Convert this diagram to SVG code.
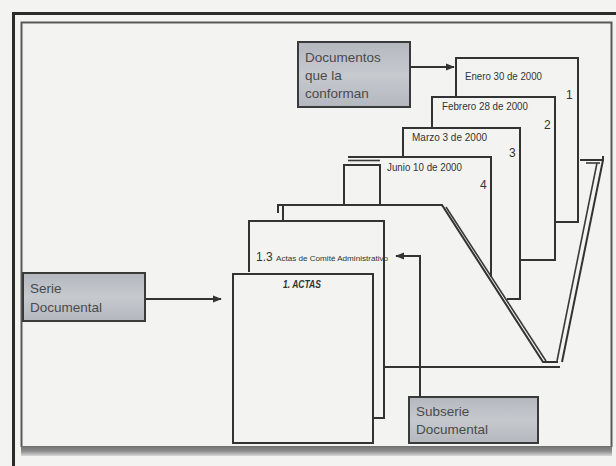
<svg xmlns="http://www.w3.org/2000/svg" width="616" height="466" viewBox="0 0 616 466">
<defs>
<marker id="ah" viewBox="0 0 10 10" refX="9" refY="5" markerWidth="4.5" markerHeight="4.5" orient="auto" markerUnits="strokeWidth">
<path d="M0,1 L10,5 L0,9 Z" fill="#333"/>
</marker>
<linearGradient id="bar" x1="0" y1="0" x2="0" y2="1">
<stop offset="0" stop-color="#6f6f6f"/>
<stop offset="0.5" stop-color="#8c8c8c"/>
<stop offset="1" stop-color="#d8d8d8"/>
</linearGradient>
<linearGradient id="box" x1="0" y1="0" x2="0" y2="1">
<stop offset="0" stop-color="#b4b8be"/>
<stop offset="0.5" stop-color="#c6c9ce"/>
<stop offset="1" stop-color="#b4b8be"/>
</linearGradient>
</defs>
<style>
.ln{fill:none;stroke:#333;stroke-width:2}
.thin{fill:none;stroke:#3a3a3a;stroke-width:1.6}
.lbl{fill:url(#box);stroke:#3a3a3a;stroke-width:2}
.lt{font-family:"Liberation Sans",Arial,sans-serif;font-size:13.5px;fill:#4a4a4a}
.dt{font-family:"Liberation Sans",Arial,sans-serif;font-size:10.5px;fill:#333}
.num{font-family:"Liberation Sans",Arial,sans-serif;font-size:12px;fill:#333}
.conn{fill:none;stroke:#333;stroke-width:2;marker-end:url(#ah)}
</style>
<rect x="0" y="0" width="616" height="466" fill="#f3f3f1"/>
<g id="frame">
<path d="M13.5,466 V13.5 H616" fill="none" stroke="#2b2b2b" stroke-width="3"/>
<path d="M21.5,447 V22.5 H611.5 V447" fill="none" stroke="#5a5a5a" stroke-width="2"/>
<rect x="21" y="446" width="591" height="10" fill="url(#bar)"/>
</g>
<g id="folder">
<path class="ln" d="M278,213 V205 H442 L543,362 H558"/>
<path class="thin" d="M446,207 L546,361"/>
<path class="ln" d="M283,205 V221"/>
<path class="ln" d="M580,160 H603 V156"/>
<path class="ln" d="M603,160 L562,362"/>
<path class="thin" d="M597,163 L557,361"/>
<path class="thin" d="M586,163 H600"/>
<path class="ln" d="M384,367 H560"/>
</g>
<g id="doc-enero">
<path class="ln" d="M456,97 V58 H578 V222 H555"/>
<text class="dt" x="465" y="80" textLength="77" lengthAdjust="spacingAndGlyphs">Enero 30 de 2000</text>
<text class="num" x="566" y="99">1</text>
</g>
<g id="doc-febrero">
<path class="ln" d="M432,128 V97 H555 V260 H520"/>
<text class="dt" x="442" y="110" textLength="86" lengthAdjust="spacingAndGlyphs">Febrero 28 de 2000</text>
<text class="num" x="544" y="129">2</text>
</g>
<g id="doc-marzo">
<path class="ln" d="M403,157 V128 H520 V299 H507"/>
<text class="dt" x="412" y="141" textLength="75" lengthAdjust="spacingAndGlyphs">Marzo  3 de 2000</text>
<text class="num" x="509" y="157">3</text>
</g>
<g id="doc-junio">
<path class="ln" d="M348,157 H491 V277" stroke-width="2.5"/>
<path class="thin" d="M348,160.5 H380"/>
<path class="ln" d="M344,205 V165 H380 V205"/>
<text class="dt" x="387" y="171" textLength="75" lengthAdjust="spacingAndGlyphs">Junio 10 de 2000</text>
<text class="num" x="480" y="189">4</text>
</g>
<g id="doc-subserie">
<path class="ln" d="M249,272 V221 H384 V418 H373"/>
<text x="256" y="261" font-family="Liberation Sans, Arial, sans-serif" font-size="12" fill="#333">1.3 <tspan font-size="7.5" textLength="112" lengthAdjust="spacingAndGlyphs">Actas de Comité Administrativo</tspan></text>
</g>
<g id="doc-actas">
<rect class="ln" x="233" y="274" width="140" height="169" fill="#f3f3f1"/>
<text x="302" y="288" text-anchor="middle" font-family="Liberation Sans, Arial, sans-serif" font-size="10" font-weight="bold" font-style="italic" fill="#333" textLength="38" lengthAdjust="spacingAndGlyphs">1. ACTAS</text>
</g>
<g id="lbl-documentos">
<rect class="lbl" x="298" y="42" width="112" height="65" fill="#adb1b7"/>
<text class="lt" x="305" y="62">Documentos</text>
<text class="lt" x="305" y="80">que la</text>
<text class="lt" x="305" y="98">conforman</text>
</g>
<g id="lbl-serie">
<rect class="lbl" x="23" y="273" width="122" height="48"/>
<text class="lt" x="30" y="293">Serie</text>
<text class="lt" x="30" y="312">Documental</text>
</g>
<g id="lbl-subserie">
<rect class="lbl" x="409" y="397" width="129" height="46"/>
<text class="lt" x="416" y="416">Subserie</text>
<text class="lt" x="416" y="434">Documental</text>
</g>
<g id="connectors">
<path class="conn" d="M410,67 H454"/>
<path class="conn" d="M145,299 H221"/>
<path class="conn" d="M420,397 V256 H396"/>
</g>
</svg>
